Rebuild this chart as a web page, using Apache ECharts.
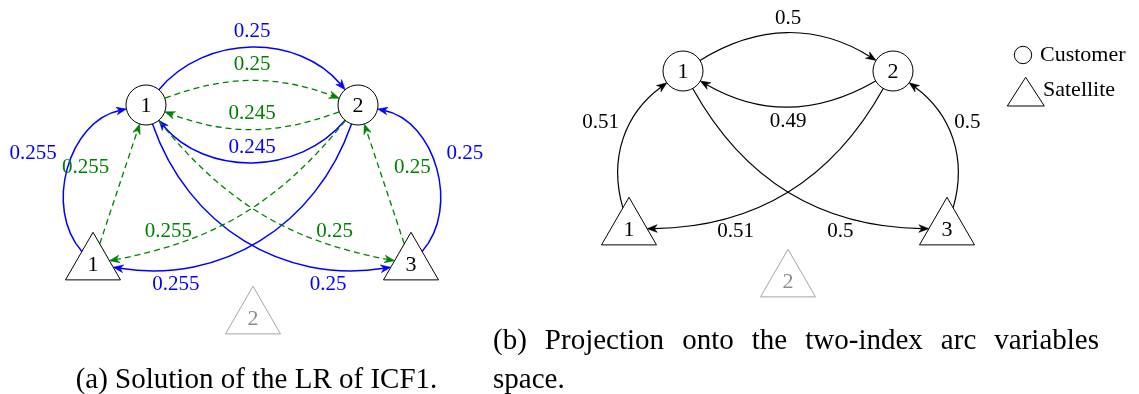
<!DOCTYPE html>
<html>
<head>
<meta charset="utf-8">
<script src="https://cdn.jsdelivr.net/npm/echarts@6/dist/echarts.min.js"></script>
<style>
  html, body { margin: 0; padding: 0; background: #ffffff; }
  #chart { width: 1139px; height: 394px; }
</style>
</head>
<body>
<div id="chart"></div>
<script>
// ---- Nodes: two customers and three satellites (satellite 2 is not used) ----
const nodeIds    = ['C1', 'C2', 'S1', 'S2', 'S3'];
const nodeLabels = ['1', '2', '1', '2', '3'];
const nodeKinds  = ['customer', 'customer', 'satellite', 'satellite', 'satellite'];
const nodeUsed   = [true, true, true, false, true];

// Node placement, panel (a) and panel (b)
const nodeXA = [146, 358, 93, 253, 411];
const nodeYA = [105, 105, 264, 318, 264];
const nodeXB = [683, 893, 629, 788, 947];
const nodeYB = [71, 71, 229, 281, 229];

// ---- (a) LR solution of ICF1: arcs of the two variable families ----
const arcFromA   = ['C1', 'C1', 'C2', 'C2', 'S1', 'S1', 'C2', 'C1', 'C2', 'C1', 'S3', 'S3'];
const arcToA     = ['C2', 'C2', 'C1', 'C1', 'C1', 'C1', 'S1', 'S3', 'S1', 'S3', 'C2', 'C2'];
const arcValueA  = [0.25, 0.25, 0.245, 0.245, 0.255, 0.255, 0.255, 0.25, 0.255, 0.25, 0.25, 0.25];
const arcFamilyA = ['x', 'y', 'y', 'x', 'x', 'y', 'x', 'x', 'y', 'y', 'x', 'y'];

// ---- (b) projection onto the two-index arc variables ----
const arcFromB   = ['C1', 'C2', 'S1', 'S3', 'C2', 'C1'];
const arcToB     = ['C2', 'C1', 'C1', 'C2', 'S1', 'S3'];
const arcValueB  = [0.5, 0.49, 0.51, 0.5, 0.51, 0.5];

// ---- Captions and legend ----
const captionA   = '(a) Solution of the LR of ICF1.';
const captionB1  = '(b) Projection onto the two-index arc variables';
const captionB2  = 'space.';
const legendText = ['Customer', 'Satellite'];

// ---- Drawing style: arc bends (degrees, + = bend left) and label placement ----
const bendA     = [50, 20, 20, 50, 60, 0, 40, -40, 20, -20, -60, 0];
const labelTA   = [0.5, 0.5, 0.5, 0.5, 0.5, 0.5, 0.75, 0.75, 0.75, 0.75, 0.5, 0.5];
const labelOffA = [[0, -16], [0, -16], [0, -16], [0, -15], [-35, -15], [-34, -16],
                   [-15, 18], [15, 18], [-13, -11], [12, -11], [29, -15], [28, -16]];
const bendB     = [32, 30, 35, -35, 30, -30];
const labelTB   = [0.5, 0.5, 0.5, 0.5, 0.7, 0.7];
const labelOffB = [[0, -15], [0, 15], [-23, -16], [15, -16], [0, 16], [0, 16]];

const FONT = '"Liberation Serif", "Times New Roman", serif';
const familyStyle = {
  x: { color: '#0000ff', width: 1.5, dash: null },
  y: { color: '#008000', width: 1.3, dash: [6, 4] },
  b: { color: '#000000', width: 1.2, dash: null }
};
const CIRCLE_R = 20;      // customer node radius
const TRI_R = 31.75;      // satellite triangle circumradius

function triangleVerts(c, R) {
  const s = R * Math.sin(Math.PI / 3);
  return [[c[0], c[1] - R], [c[0] + s, c[1] + R / 2], [c[0] - s, c[1] + R / 2]];
}

// Point where a ray from the node centre at screen angle `ang` leaves the node
function borderPoint(kind, c, ang) {
  const dx = Math.cos(ang), dy = Math.sin(ang);
  if (kind === 'customer') return [c[0] + CIRCLE_R * dx, c[1] + CIRCLE_R * dy];
  const v = triangleVerts(c, TRI_R);
  let best = Infinity;
  for (let k = 0; k < 3; k++) {
    const a = v[k], b = v[(k + 1) % 3];
    const ex = b[0] - a[0], ey = b[1] - a[1];
    const det = -dx * ey + ex * dy;
    if (Math.abs(det) < 1e-9) continue;
    const rx = a[0] - c[0], ry = a[1] - c[1];
    const s = (-rx * ey + ex * ry) / det;
    const u = (dx * ry - dy * rx) / det;
    if (s > 0 && u >= -1e-6 && u <= 1 + 1e-6 && s < best) best = s;
  }
  return [c[0] + best * dx, c[1] + best * dy];
}

function bezierAt(p, t) {
  const m = 1 - t;
  const a = m * m * m, b = 3 * m * m * t, c = 3 * m * t * t, d = t * t * t;
  return [a * p[0][0] + b * p[1][0] + c * p[2][0] + d * p[3][0],
          a * p[0][1] + b * p[1][1] + c * p[2][1] + d * p[3][1]];
}

function makeArcRenderer(nodeX, nodeY, families, bends, labelT, labelOff) {
  return function (params, api) {
    const from = api.value(0), to = api.value(1), value = api.value(2), i = api.value(3);
    const c1 = api.coord([nodeX[from], nodeY[from]]);
    const c2 = api.coord([nodeX[to], nodeY[to]]);
    const st = familyStyle[families[i]];
    const alpha = Math.atan2(c2[1] - c1[1], c2[0] - c1[0]);
    const bend = bends[i] * Math.PI / 180;
    const outA = alpha - bend;
    const inA = alpha + Math.PI + bend;
    const p0 = borderPoint(nodeKinds[from], c1, outA);
    const p3 = borderPoint(nodeKinds[to], c2, inA);
    const dist = Math.hypot(p3[0] - p0[0], p3[1] - p0[1]) * 0.3915;
    const p1 = [p0[0] + dist * Math.cos(outA), p0[1] + dist * Math.sin(outA)];
    const p2 = [p3[0] + dist * Math.cos(inA), p3[1] + dist * Math.sin(inA)];
    const pts = [p0, p1, p2, p3];

    // arrow head at the target end
    let ux = p3[0] - p2[0], uy = p3[1] - p2[1];
    const ul = Math.hypot(ux, uy); ux /= ul; uy /= ul;
    const nx = -uy, ny = ux, L = 10, W = 3.8;
    const back = [p3[0] - L * ux, p3[1] - L * uy];
    const notch = [p3[0] - 0.7 * L * ux, p3[1] - 0.7 * L * uy];
    // stop the stroke at the notch so the line does not poke through the tip
    const q = [p0, p1, p2, notch];

    const lp = bezierAt(pts, labelT[i]);
    const off = labelOff[i];
    return {
      type: 'group',
      children: [
        {
          type: 'path',
          shape: { pathData: 'M' + q[0].join(' ') + ' C' + q[1].join(' ') + ' ' + q[2].join(' ') + ' ' + q[3].join(' ') },
          style: { fill: 'none', stroke: st.color, lineWidth: st.width, lineDash: st.dash }
        },
        {
          type: 'polygon',
          shape: { points: [p3, [back[0] + W * nx, back[1] + W * ny], notch, [back[0] - W * nx, back[1] - W * ny]] },
          style: { fill: st.color, stroke: st.color, lineWidth: 0.6 }
        },
        {
          type: 'text',
          x: lp[0] + off[0], y: lp[1] + off[1],
          style: { text: String(value), font: '21px ' + FONT, fill: st.color, align: 'center', verticalAlign: 'middle' }
        }
      ]
    };
  };
}

function renderNode(nodeX, nodeY) {
  return function (params, api) {
    const i = api.value(2);
    const c = api.coord([api.value(0), api.value(1)]);
    const stroke = nodeUsed[i] ? '#000000' : '#a6a6a6';
    const textColor = nodeUsed[i] ? '#000000' : '#8c8c8c';
    const shape = nodeKinds[i] === 'customer'
      ? { type: 'circle', shape: { cx: c[0], cy: c[1], r: CIRCLE_R }, style: { fill: '#ffffff', stroke: stroke, lineWidth: 1 } }
      : { type: 'polygon', shape: { points: triangleVerts(c, TRI_R) }, style: { fill: '#ffffff', stroke: stroke, lineWidth: 1 } };
    return {
      type: 'group',
      children: [
        shape,
        { type: 'text', x: c[0], y: c[1] + 1,
          style: { text: nodeLabels[i], font: '22px ' + FONT, fill: textColor, align: 'center', verticalAlign: 'middle' } }
      ]
    };
  };
}

const idx = id => nodeIds.indexOf(id);
const arcDataA = arcFromA.map((f, i) => [idx(f), idx(arcToA[i]), arcValueA[i], i]);
const arcDataB = arcFromB.map((f, i) => [idx(f), idx(arcToB[i]), arcValueB[i], i]);
const nodeDataA = nodeIds.map((_, i) => [nodeXA[i], nodeYA[i], i]);
const nodeDataB = nodeIds.map((_, i) => [nodeXB[i], nodeYB[i], i]);

// Justified first caption line of panel (b)
function justifiedWords(text, font, x0, x1, y) {
  const ctx = document.createElement('canvas').getContext('2d');
  ctx.font = font;
  const words = text.split(' ');
  const widths = words.map(w => ctx.measureText(w).width);
  const gap = (x1 - x0 - widths.reduce((a, b) => a + b, 0)) / (words.length - 1);
  let x = x0;
  return words.map((w, k) => {
    const el = { type: 'text', x: x, y: y, style: { text: w, font: font, fill: '#000', align: 'left', verticalAlign: 'middle' } };
    x += widths[k] + gap;
    return el;
  });
}

const CAP_FONT = '29px ' + FONT;
const graphic = [
  // legend
  { type: 'circle', shape: { cx: 1023, cy: 55, r: 8.7 }, style: { fill: '#fff', stroke: '#000', lineWidth: 1 } },
  { type: 'text', x: 1040, y: 55, style: { text: legendText[0], font: '22px ' + FONT, fill: '#000', align: 'left', verticalAlign: 'middle' } },
  { type: 'polygon', shape: { points: [[1025.7, 77.3], [1044.3, 106], [1007.3, 106]] }, style: { fill: '#fff', stroke: '#000', lineWidth: 1 } },
  { type: 'text', x: 1043, y: 90, style: { text: legendText[1], font: '22px ' + FONT, fill: '#000', align: 'left', verticalAlign: 'middle' } },
  // captions
  { type: 'text', x: 256.5, y: 380, style: { text: captionA, font: CAP_FONT, fill: '#000', align: 'center', verticalAlign: 'middle' } },
  ...justifiedWords(captionB1, CAP_FONT, 493, 1099, 341),
  { type: 'text', x: 493, y: 380, style: { text: captionB2, font: CAP_FONT, fill: '#000', align: 'left', verticalAlign: 'middle' } }
];

const chart = echarts.init(document.getElementById('chart'), null, { renderer: 'canvas' });
chart.setOption({
  animation: false,
  backgroundColor: '#ffffff',
  grid: { left: 0, right: 0, top: 0, bottom: 0, containLabel: false },
  xAxis: { type: 'value', min: 0, max: 1139, show: false },
  yAxis: { type: 'value', min: 0, max: 394, inverse: true, show: false },
  graphic: graphic,
  series: [
    { type: 'custom', name: 'arcs (a)', renderItem: makeArcRenderer(nodeXA, nodeYA, arcFamilyA, bendA, labelTA, labelOffA),
      data: arcDataA, encode: { x: -1, y: -1 }, z: 2 },
    { type: 'custom', name: 'arcs (b)', renderItem: makeArcRenderer(nodeXB, nodeYB, arcFromB.map(() => 'b'), bendB, labelTB, labelOffB),
      data: arcDataB, encode: { x: -1, y: -1 }, z: 2 },
    { type: 'custom', name: 'nodes (a)', renderItem: renderNode(nodeXA, nodeYA), data: nodeDataA, z: 3 },
    { type: 'custom', name: 'nodes (b)', renderItem: renderNode(nodeXB, nodeYB), data: nodeDataB, z: 3 }
  ]
});
</script>
</body>
</html>
